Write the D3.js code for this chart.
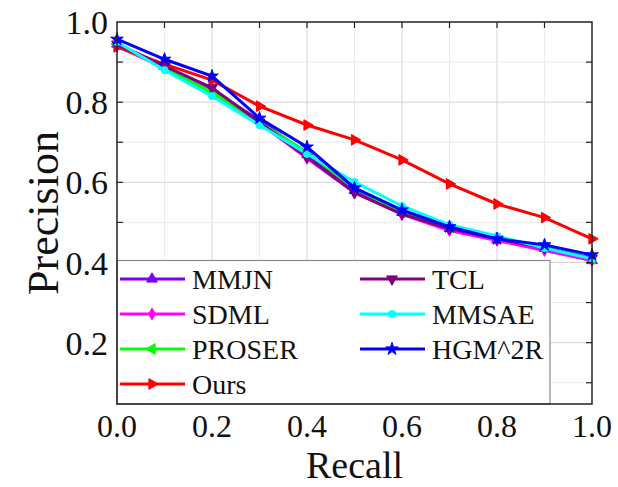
<!DOCTYPE html>
<html>
<head>
<meta charset="utf-8">
<script src="https://cdn.jsdelivr.net/npm/d3@7"></script>
<style>
  body { margin: 0; background: #fff; }
</style>
</head>
<body>
<div id="chart"></div>
<script>
// recall points shared by every curve
const recall = [0.0, 0.1, 0.2, 0.3, 0.4, 0.5, 0.6, 0.7, 0.8, 0.9, 1.0];

// precision values
const mmjn   = [0.945, 0.890, 0.830, 0.755, 0.670, 0.580, 0.525, 0.485, 0.457, 0.435, 0.405];
const sdml   = [0.940, 0.885, 0.825, 0.748, 0.660, 0.575, 0.520, 0.480, 0.455, 0.430, 0.405];
const proser = [0.945, 0.885, 0.825, 0.750, 0.675, 0.585, 0.525, 0.487, 0.460, 0.438, 0.410];
const ours   = [0.938, 0.895, 0.855, 0.790, 0.743, 0.706, 0.656, 0.596, 0.546, 0.512, 0.459];
const tcl    = [0.945, 0.890, 0.836, 0.750, 0.663, 0.574, 0.521, 0.484, 0.459, 0.437, 0.410];
const mmsae  = [0.950, 0.880, 0.815, 0.743, 0.671, 0.601, 0.541, 0.494, 0.466, 0.436, 0.409];
const hgm2r  = [0.957, 0.907, 0.865, 0.760, 0.688, 0.586, 0.531, 0.489, 0.459, 0.444, 0.419];

const names  = ["MMJN", "SDML", "PROSER", "Ours", "TCL", "MMSAE", "HGM^2R"];
const values = [mmjn, sdml, proser, ours, tcl, mmsae, hgm2r];
const colors = ["#7f00ff", "#ff00ff", "#00ff00", "#ff0000", "#800080", "#00ffff", "#0000ff"];

const xTicks = [0.0, 0.2, 0.4, 0.6, 0.8, 1.0];
const yTicks = [0.2, 0.4, 0.6, 0.8, 1.0];
const minorTicks = d3.range(1, 11).map(d => d / 10);

const width = 618;
const height = 487;
const margin = {top: 22, left: 117, right: 26, bottom: 83};
const serif = "'Liberation Serif', 'DejaVu Serif', serif";

const svg = d3.select("#chart")
    .append("svg")
    .attr("width", width)
    .attr("height", height)
    .attr("font-family", serif)
    .style("font-family", serif);

const xScale = d3.scaleLinear()
    .domain([0, 1])
    .range([margin.left, width - margin.right]);

const yScale = d3.scaleLinear()
    .domain([0.047, 1])
    .range([height - margin.bottom, margin.top]);

const x0 = xScale.range()[0], x1 = xScale.range()[1];
const y0 = yScale.range()[0], y1 = yScale.range()[1];

// grid, lighter for the odd tenths
const gridVals = d3.range(0, 11).map(d => d / 10);
svg.append("g").selectAll("line")
    .data(gridVals.filter(d => d > 0 && d < 1))
    .join("line")
    .attr("x1", d => xScale(d)).attr("x2", d => xScale(d))
    .attr("y1", y0).attr("y2", y1)
    .attr("stroke", (d, i) => (i % 2 === 1) ? "#d4d4d4" : "#ececec")
    .attr("stroke-width", 1);

svg.append("g").selectAll("line")
    .data(gridVals.filter(d => d > 0.05 && d < 1))
    .join("line")
    .attr("y1", d => yScale(d)).attr("y2", d => yScale(d))
    .attr("x1", x0).attr("x2", x1)
    .attr("stroke", d => (Math.round(d * 10) % 2 === 0) ? "#d4d4d4" : "#ececec")
    .attr("stroke-width", 1);

// curves
const line = d3.line()
    .x((d, i) => xScale(recall[i]))
    .y(d => yScale(d));

const symbols = [
    {type: d3.symbolTriangle, rot: 0},
    {type: d3.symbolDiamond, rot: 0},
    {type: d3.symbolTriangle, rot: -90},
    {type: d3.symbolTriangle, rot: 90},
    {type: d3.symbolTriangle, rot: 180},
    {type: d3.symbolCircle, rot: 0},
    {type: d3.symbolStar, rot: 0}
];
const symSize = [50, 40, 50, 50, 50, 40, 50];

const series = svg.append("g");
values.forEach(function(vals, k) {
    series.append("path")
        .datum(vals)
        .attr("d", line)
        .attr("fill", "none")
        .attr("stroke", colors[k])
        .attr("stroke-width", 3);

    series.selectAll(".m" + k)
        .data(vals)
        .join("path")
        .attr("class", "m" + k)
        .attr("d", d3.symbol().type(symbols[k].type).size(symSize[k]))
        .attr("transform", (d, i) => `translate(${xScale(recall[i])},${yScale(d)}) rotate(${symbols[k].rot})`)
        .attr("fill", colors[k])
        .attr("stroke", colors[k])
        .attr("stroke-width", 1);
});

// ticks on all four sides, pointing inward
const tickLen = 6;
const ticks = svg.append("g").attr("stroke", "#222").attr("stroke-width", 1.2);
minorTicks.concat([0]).forEach(function(d) {
    if (d > 0 && d < 1) {
        ticks.append("line").attr("x1", xScale(d)).attr("x2", xScale(d)).attr("y1", y1).attr("y2", y1 + tickLen);
        ticks.append("line").attr("x1", xScale(d)).attr("x2", xScale(d)).attr("y1", y0).attr("y2", y0 - tickLen);
    }
    if (d < 1 && yScale(d) < y0) {
        ticks.append("line").attr("y1", yScale(d)).attr("y2", yScale(d)).attr("x1", x0).attr("x2", x0 + tickLen);
        ticks.append("line").attr("y1", yScale(d)).attr("y2", yScale(d)).attr("x1", x1).attr("x2", x1 - tickLen);
    }
});

// legend
const legend = svg.append("g");
legend.append("rect")
    .attr("x", x0)
    .attr("y", yScale(0.4) - 2)
    .attr("width", 433)
    .attr("height", y0 - yScale(0.4) + 2)
    .attr("fill", "#fff")
    .attr("stroke", "#8a8a8a")
    .attr("stroke-width", 1.2);

names.forEach(function(name, k) {
    const col = k < 4 ? 0 : 1;
    const row = k < 4 ? k : k - 4;
    const lx = col === 0 ? 120 : 360;
    const ly = 279 + row * 35;

    legend.append("line")
        .attr("x1", lx).attr("x2", lx + 65)
        .attr("y1", ly).attr("y2", ly)
        .attr("stroke", colors[k])
        .attr("stroke-width", 3);

    legend.append("path")
        .attr("d", d3.symbol().type(symbols[k].type).size(symSize[k]))
        .attr("transform", `translate(${lx + 32},${ly}) rotate(${symbols[k].rot})`)
        .attr("fill", colors[k])
        .attr("stroke", colors[k]);

    legend.append("text")
        .attr("x", lx + 72)
        .attr("y", ly + 10)
        .attr("font-size", 28)
        .attr("fill", "#111")
        .text(name);
});

// frame
svg.append("rect")
    .attr("x", x0).attr("y", y1)
    .attr("width", x1 - x0).attr("height", y0 - y1)
    .attr("fill", "none")
    .attr("stroke", "#222")
    .attr("stroke-width", 1.5);

// tick labels
svg.append("g").selectAll("text")
    .data(xTicks)
    .join("text")
    .attr("x", d => xScale(d))
    .attr("y", 437)
    .attr("text-anchor", "middle")
    .attr("font-size", 32)
    .attr("fill", "#111")
    .text(d => d.toFixed(1));

svg.append("g").selectAll("text")
    .data(yTicks)
    .join("text")
    .attr("x", 108)
    .attr("y", d => yScale(d) + 12)
    .attr("text-anchor", "end")
    .attr("font-size", 34)
    .attr("fill", "#111")
    .text(d => d.toFixed(1));

// axis titles
svg.append("text")
    .attr("x", (x0 + x1) / 2)
    .attr("y", 478)
    .attr("text-anchor", "middle")
    .attr("font-size", 38)
    .attr("fill", "#111")
    .text("Recall");

svg.append("text")
    .attr("transform", `translate(58,${(y0 + y1) / 2}) rotate(-90)`)
    .attr("text-anchor", "middle")
    .attr("font-size", 44)
    .attr("fill", "#111")
    .text("Precision");
</script>
</body>
</html>
